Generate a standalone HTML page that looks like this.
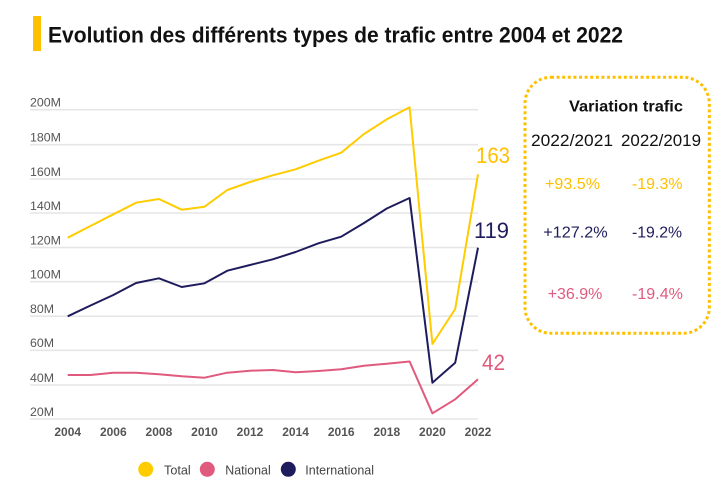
<!DOCTYPE html>
<html>
<head>
<meta charset="utf-8">
<style>
  html,body{margin:0;padding:0;background:#fff;}
  svg{display:block;}
  text{font-family:"Liberation Sans",sans-serif;}
</style>
</head>
<body>
<svg width="722" height="487" viewBox="0 0 722 487" xmlns="http://www.w3.org/2000/svg">
  <rect x="0" y="0" width="722" height="487" fill="#fff"/>
  <!-- Title -->
  <rect x="33" y="16" width="8" height="35" fill="#FFC000"/>
  <text x="48" y="42.3" font-size="22" font-weight="bold" fill="#111" textLength="575" lengthAdjust="spacingAndGlyphs">Evolution des différents types de trafic entre 2004 et 2022</text>

  <!-- Gridlines -->
  <g stroke="#e6e6e6" stroke-width="1.6">
    <line x1="30" x2="478" y1="109.7" y2="109.7"/>
    <line x1="30" x2="478" y1="144.7" y2="144.7"/>
    <line x1="30" x2="478" y1="179" y2="179"/>
    <line x1="30" x2="478" y1="213" y2="213"/>
    <line x1="30" x2="478" y1="247.5" y2="247.5"/>
    <line x1="30" x2="478" y1="281.7" y2="281.7"/>
    <line x1="30" x2="478" y1="316.2" y2="316.2"/>
    <line x1="30" x2="478" y1="350.3" y2="350.3"/>
    <line x1="30" x2="478" y1="385" y2="385"/>
    <line x1="30" x2="478" y1="419" y2="419"/>
  </g>
  <!-- Y labels -->
  <g font-size="12" fill="#555">
    <text x="30" y="106.5" textLength="31" lengthAdjust="spacingAndGlyphs">200M</text>
    <text x="30" y="141.5" textLength="31" lengthAdjust="spacingAndGlyphs">180M</text>
    <text x="30" y="175.8" textLength="31" lengthAdjust="spacingAndGlyphs">160M</text>
    <text x="30" y="209.8" textLength="31" lengthAdjust="spacingAndGlyphs">140M</text>
    <text x="30" y="244.3" textLength="31" lengthAdjust="spacingAndGlyphs">120M</text>
    <text x="30" y="278.5" textLength="31" lengthAdjust="spacingAndGlyphs">100M</text>
    <text x="30" y="313" textLength="24" lengthAdjust="spacingAndGlyphs">80M</text>
    <text x="30" y="347.1" textLength="24" lengthAdjust="spacingAndGlyphs">60M</text>
    <text x="30" y="381.8" textLength="24" lengthAdjust="spacingAndGlyphs">40M</text>
    <text x="30" y="415.8" textLength="24" lengthAdjust="spacingAndGlyphs">20M</text>
  </g>
  <!-- X labels -->
  <g font-size="12" font-weight="bold" fill="#555" text-anchor="middle">
    <text x="67.7" y="436">2004</text>
    <text x="113.3" y="436">2006</text>
    <text x="158.9" y="436">2008</text>
    <text x="204.5" y="436">2010</text>
    <text x="250" y="436">2012</text>
    <text x="295.6" y="436">2014</text>
    <text x="341.2" y="436">2016</text>
    <text x="386.8" y="436">2018</text>
    <text x="432.4" y="436">2020</text>
    <text x="478" y="436">2022</text>
  </g>

  <!-- Series -->
  <g fill="none" stroke-width="2" stroke-linejoin="round">
    <polyline stroke="#FFCC00" points="67.7,237.7 90.5,226 113.3,214.3 136.1,202.7 158.9,199 181.7,209.7 204.5,206.7 227.3,190 250,182 272.8,175.3 295.6,169.3 318.4,160.7 341.2,152.7 364,134 386.8,119.3 409.6,107.3 432.4,344 455.2,309 478,174.3"/>
    <polyline stroke="#1E1C5C" points="67.7,316.3 90.5,305.5 113.3,295 136.1,283 158.9,278.3 181.7,287 204.5,283.3 227.3,270.7 250,265 272.8,259.3 295.6,252 318.4,243.3 341.2,236.7 364,223 386.8,208.5 409.6,198 432.4,382.7 455.2,362.7 478,247.7"/>
    <polyline stroke="#E05A7E" points="67.7,375 90.5,375 113.3,372.7 136.1,372.7 158.9,374.3 181.7,376.3 204.5,377.7 227.3,372.7 250,370.7 272.8,370 295.6,372.3 318.4,371 341.2,369.3 364,365.7 386.8,363.7 409.6,361.5 432.4,413.3 455.2,399.3 478,379.3"/>
  </g>

  <!-- End annotations -->
  <text x="476" y="163" font-size="22" fill="#FFC000" textLength="34" lengthAdjust="spacingAndGlyphs">163</text>
  <text x="474" y="238" font-size="22" fill="#1E1C5C" textLength="35" lengthAdjust="spacingAndGlyphs">119</text>
  <text x="482" y="370" font-size="22" fill="#E05A7E" textLength="23" lengthAdjust="spacingAndGlyphs">42</text>

  <!-- Dotted box -->
  <rect x="525" y="77.3" width="184.3" height="256" rx="26" ry="26" fill="none" stroke="#FFC000" stroke-width="3" stroke-dasharray="3 2.6"/>
  <text x="569" y="111.7" font-size="16" font-weight="bold" fill="#111" textLength="114" lengthAdjust="spacingAndGlyphs">Variation trafic</text>
  <text x="531" y="146" font-size="17" fill="#111" textLength="82" lengthAdjust="spacingAndGlyphs">2022/2021</text>
  <text x="621" y="146" font-size="17" fill="#111" textLength="80" lengthAdjust="spacingAndGlyphs">2022/2019</text>

  <text x="545" y="189" font-size="16" fill="#FFC000" textLength="55" lengthAdjust="spacingAndGlyphs">+93.5%</text>
  <text x="632" y="189" font-size="16" fill="#FFC000" textLength="50.5" lengthAdjust="spacingAndGlyphs">-19.3%</text>
  <text x="543.3" y="237.3" font-size="16" fill="#1E1C5C" textLength="64.4" lengthAdjust="spacingAndGlyphs">+127.2%</text>
  <text x="632" y="237.3" font-size="16" fill="#1E1C5C" textLength="50" lengthAdjust="spacingAndGlyphs">-19.2%</text>
  <text x="547.7" y="299" font-size="16" fill="#E05A7E" textLength="54.6" lengthAdjust="spacingAndGlyphs">+36.9%</text>
  <text x="632" y="299" font-size="16" fill="#E05A7E" textLength="51" lengthAdjust="spacingAndGlyphs">-19.4%</text>

  <!-- Legend -->
  <circle cx="145.7" cy="469.3" r="7.5" fill="#FFCC00"/>
  <text x="164" y="474.3" font-size="13" fill="#444" textLength="26.7" lengthAdjust="spacingAndGlyphs">Total</text>
  <circle cx="207.3" cy="469.3" r="7.5" fill="#E05A7E"/>
  <text x="225.3" y="474.3" font-size="13" fill="#444" textLength="45.4" lengthAdjust="spacingAndGlyphs">National</text>
  <circle cx="288.3" cy="469.3" r="7.5" fill="#1E1C5C"/>
  <text x="305.3" y="474.3" font-size="13" fill="#444" textLength="68.7" lengthAdjust="spacingAndGlyphs">International</text>
</svg>
</body>
</html>
